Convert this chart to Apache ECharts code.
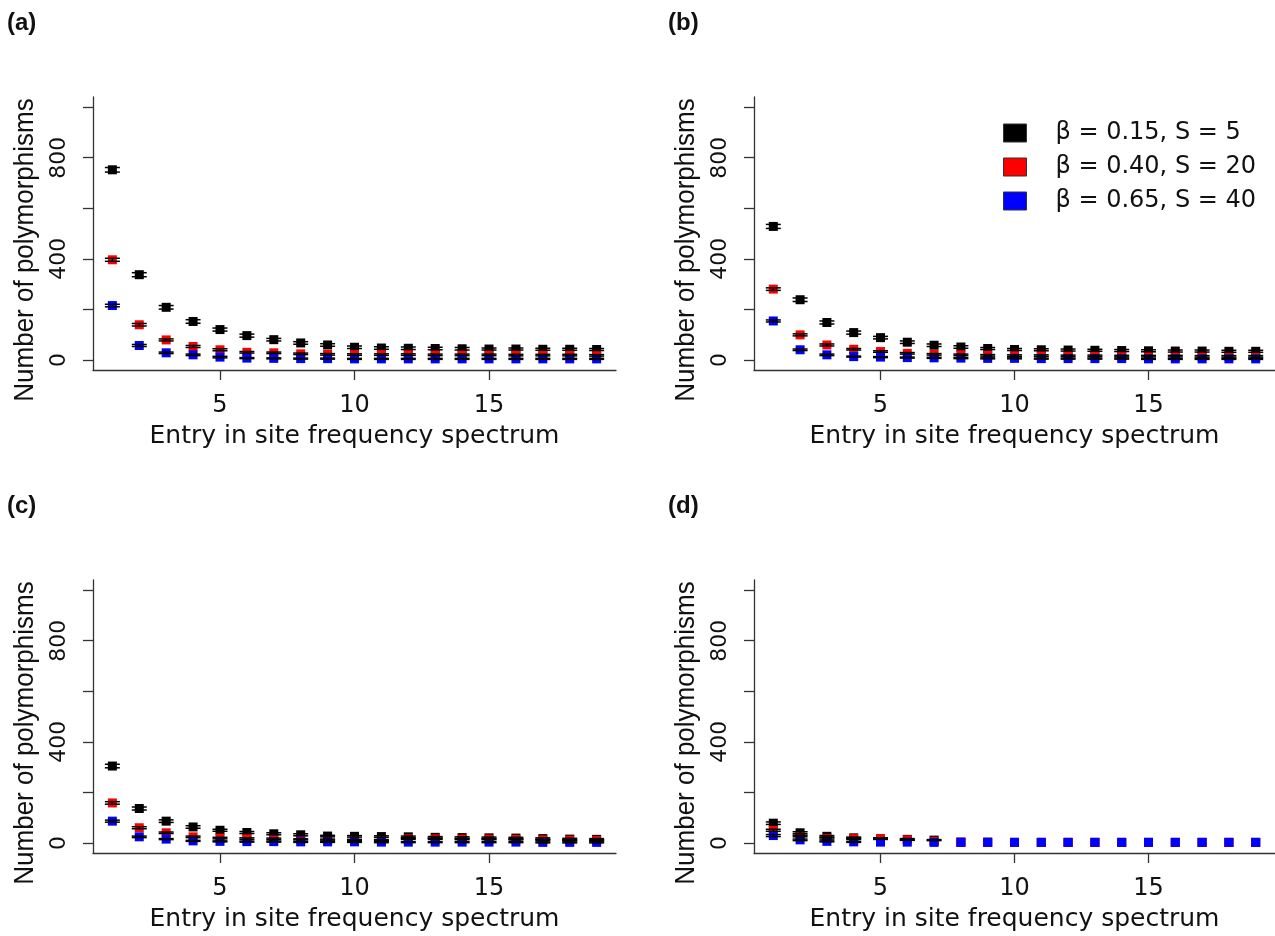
<!DOCTYPE html>
<html>
<head>
<meta charset="utf-8">
<title>Site frequency spectrum</title>
<script src="https://cdn.jsdelivr.net/npm/echarts@6/dist/echarts.min.js"></script>
<style>
html, body { margin: 0; padding: 0; background: #fff; }
#main { width: 1275px; height: 936px; }
</style>
</head>
<body>
<div id="main"></div>
<script>
// entries of the site frequency spectrum
var entries = [1, 2, 3, 4, 5, 6, 7, 8, 9, 10, 11, 12, 13, 14, 15, 16, 17, 18, 19];
var seriesNames = ['β = 0.15, S = 5', 'β = 0.40, S = 20', 'β = 0.65, S = 40'];
var seriesColors = ['#000000', '#ff0000', '#0000ff'];
var xTicks = [5, 10, 15];
var yTicks = [0, 200, 400, 600, 800, 1000];
var yTickLabels = [0, 400, 800];
var panelLabels = ['(a)', '(b)', '(c)', '(d)'];
var xTitle = 'Entry in site frequency spectrum';
var yTitle = 'Number of polymorphisms';

// panel (a)
var aBlack = [752, 337, 208, 152, 120, 96, 80, 67, 59, 50, 47, 46, 45, 44, 43, 43, 42, 42, 41];
var aRed = [396, 139, 79, 53, 40, 30, 28, 24, 22, 21, 21, 21, 20, 20, 20, 19, 19, 19, 18];
var aBlue = [215, 57, 28, 20, 11, 7, 6, 5, 5, 4, 4, 4, 4, 4, 4, 4, 4, 4, 4];
var aBlackErr = [9, 8, 7, 7, 6, 6, 5, 5, 5, 5, 5, 5, 5, 5, 4, 4, 4, 4, 4];
var aRedErr = [6, 5, 4, 4, 4, 3, 3, 3, 3, 3, 3, 3, 3, 3, 3, 3, 3, 3, 3];
var aBlueErr = [5, 4, 3, 3, 3, 2, 2, 2, 2, 2, 2, 2, 2, 2, 2, 2, 2, 2, 2];

// panel (b)
var bBlack = [528, 238, 148, 108, 88, 70, 58, 51, 45, 41, 40, 39, 38, 37, 36, 35, 35, 34, 34];
var bRed = [280, 99, 59, 42, 33, 26, 22, 20, 18, 17, 17, 16, 16, 15, 15, 15, 14, 14, 14];
var bBlue = [154, 40, 20, 13, 11, 9, 8, 7, 6, 6, 5, 5, 5, 5, 4, 4, 4, 4, 4];
var bBlackErr = [8, 7, 6, 6, 5, 5, 5, 5, 4, 4, 4, 4, 4, 4, 4, 4, 4, 4, 4];
var bRedErr = [5, 4, 4, 3, 3, 3, 3, 3, 3, 3, 3, 3, 3, 3, 3, 3, 3, 3, 3];
var bBlueErr = [4, 3, 3, 2, 2, 2, 2, 2, 2, 2, 2, 2, 2, 2, 2, 2, 2, 2, 2];

// panel (c)
var cBlack = [304, 136, 86, 63, 50, 41, 36, 32, 27, 26, 25, 24, 22, 21, 20, 19, 17, 15, 14];
var cRed = [158, 60, 40, 24, 19, 17, 16, 14, 13, 12, 11, 16, 16, 15, 15, 14, 12, 11, 10];
var cBlue = [86, 24, 15, 8, 6, 5, 5, 4, 4, 4, 3, 3, 3, 3, 3, 3, 2, 2, 2];
var cBlackErr = [7, 6, 5, 5, 4, 4, 4, 4, 3, 3, 3, 3, 3, 3, 3, 3, 3, 3, 3];
var cRedErr = [5, 4, 3, 3, 3, 3, 3, 2, 2, 2, 2, 2, 2, 2, 2, 2, 2, 2, 2];
var cBlueErr = [4, 3, 2, 2, 2, 2, 2, 2, 2, 2, 2, 2, 2, 2, 2, 2, 2, 2, 2];

// panel (d)
var dBlack = [78, 40, 26, 20, 17, 14, 11, 3, 3, 2, 2, 2, 2, 2, 2, 2, 2, 2, 2];
var dRed = [50, 27, 18, 17, 17, 12, 6, 3, 2, 2, 2, 2, 2, 2, 2, 2, 2, 2, 2];
var dBlue = [29, 12, 6, 4, 3, 3, 2, 2, 2, 2, 2, 2, 2, 2, 2, 2, 2, 2, 2];
var dBlackErr = [5, 4, 3, 3, 3, 3, 2, 0, 0, 0, 0, 0, 0, 0, 0, 0, 0, 0, 0];
var dRedErr = [4, 3, 3, 3, 3, 2, 0, 0, 0, 0, 0, 0, 0, 0, 0, 0, 0, 0, 0];
var dBlueErr = [4, 3, 2, 2, 0, 0, 0, 0, 0, 0, 0, 0, 0, 0, 0, 0, 0, 0, 0];

var panelData = [
  [[aBlack, aBlackErr], [aRed, aRedErr], [aBlue, aBlueErr]],
  [[bBlack, bBlackErr], [bRed, bRedErr], [bBlue, bBlueErr]],
  [[cBlack, cBlackErr], [cRed, cRedErr], [cBlue, cBlueErr]],
  [[dBlack, dBlackErr], [dRed, dRedErr], [dBlue, dBlueErr]]
];

var gridPos = [
  { left: 93, top: 97 },
  { left: 754, top: 97 },
  { left: 93, top: 580 },
  { left: 754, top: 580 }
];

var textColor = '#111';
var axisColor = '#333';

// error bar with caps, drawn in black over the squares
function renderErrorBar(params, api) {
  var x = api.value(0), y = api.value(1), e = api.value(2);
  if (!e) return null;
  var hi = api.coord([x, y + e]);
  var lo = api.coord([x, y - e]);
  var hw = 7.5;
  var st = { stroke: '#000', lineWidth: 1.5 };
  return {
    type: 'group',
    children: [
      { type: 'line', shape: { x1: hi[0], y1: hi[1], x2: lo[0], y2: lo[1] }, style: st },
      { type: 'line', shape: { x1: hi[0] - hw, y1: hi[1], x2: hi[0] + hw, y2: hi[1] }, style: st },
      { type: 'line', shape: { x1: lo[0] - hw, y1: lo[1], x2: lo[0] + hw, y2: lo[1] }, style: st }
    ]
  };
}

var grids = [], xAxes = [], yAxes = [], pointSeries = [], errSeries = [], graphics = [];

gridPos.forEach(function (pos, p) {
  grids.push({ left: pos.left, top: pos.top, width: 523, height: 273 });

  xAxes.push({
    type: 'value', gridIndex: p, min: 0.28, max: 19.72,
    name: xTitle, nameLocation: 'middle', nameGap: 54,
    nameTextStyle: { fontFamily: 'DejaVu Sans', fontSize: 25, color: textColor },
    axisLine: { show: true, onZero: false, lineStyle: { color: axisColor, width: 1.3 } },
    axisTick: { show: true, customValues: xTicks, length: 10, lineStyle: { color: axisColor, width: 1.3 } },
    axisLabel: { customValues: xTicks, margin: 24, fontFamily: 'DejaVu Sans', fontSize: 24, color: textColor },
    splitLine: { show: false }
  });

  yAxes.push({
    type: 'value', gridIndex: p, min: -40, max: 1040,
    axisLine: { show: true, onZero: false, lineStyle: { color: axisColor, width: 1.3 } },
    axisTick: { show: true, customValues: yTicks, length: 10, lineStyle: { color: axisColor, width: 1.3 } },
    axisLabel: { customValues: yTickLabels, rotate: 90, margin: 23, fontFamily: 'DejaVu Sans', fontSize: 22, color: textColor },
    splitLine: { show: false }
  });

  panelData[p].forEach(function (pair, g) {
    var vals = pair[0], errs = pair[1];
    pointSeries.push({
      type: 'scatter', name: seriesNames[g], xAxisIndex: p, yAxisIndex: p,
      symbol: 'rect', symbolSize: 9, z: 2,
      itemStyle: { color: seriesColors[g], opacity: 1 },
      data: entries.map(function (x, i) { return [x, vals[i]]; })
    });
    errSeries.push({
      type: 'custom', name: seriesNames[g], xAxisIndex: p, yAxisIndex: p,
      z: 3, silent: true, renderItem: renderErrorBar,
      itemStyle: { color: seriesColors[g] },
      data: entries.map(function (x, i) { return [x, vals[i], errs[i]]; })
    });
  });

  // panel letter
  graphics.push({
    type: 'text', x: pos.left - 86, y: pos.top - 86,
    style: { text: panelLabels[p], font: 'bold 24px "Liberation Sans"', fill: textColor }
  });
  // y axis title
  graphics.push({
    type: 'text', x: pos.left - 68, y: pos.top + 153,
    rotation: Math.PI / 2, scaleY: 1.08,
    style: { text: yTitle, font: '26px "Liberation Sans"', fill: textColor, align: 'center', verticalAlign: 'middle' }
  });
});

var chart = echarts.init(document.getElementById('main'));
chart.setOption({
  backgroundColor: '#fff',
  animation: false,
  grid: grids,
  xAxis: xAxes,
  yAxis: yAxes,
  legend: {
    orient: 'vertical', left: 998, top: 116,
    itemWidth: 23, itemHeight: 18, itemGap: 10,
    icon: 'rect', selectedMode: false,
    data: seriesNames.map(function (n, i) {
      return { name: n, itemStyle: { color: seriesColors[i], borderColor: '#333', borderWidth: 1 } };
    }),
    textStyle: { fontFamily: 'DejaVu Sans', fontSize: 24, lineHeight: 23, color: textColor, padding: [0, 0, 0, 24] }
  },
  graphic: graphics,
  series: pointSeries.concat(errSeries)
});
</script>
</body>
</html>
